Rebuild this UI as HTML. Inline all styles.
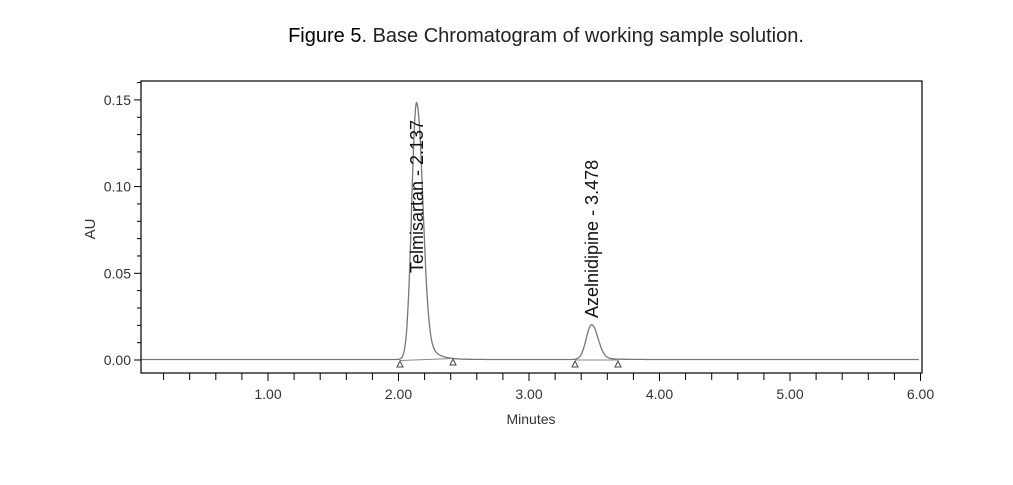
<!DOCTYPE html>
<html><head><meta charset="utf-8"><style>
body{margin:0;background:#fff;width:1013px;height:485px;overflow:hidden}
svg{display:block}
text{font-family:"Liberation Sans",Arial,sans-serif}
</style></head><body>
<svg id="s" width="1013" height="485" viewBox="0 0 1013 485">
<text x="546" y="42" font-size="20" text-anchor="middle" fill="#222"><tspan fill="#000">Figure 5</tspan>. Base Chromatogram of working sample solution.</text>
<rect x="141" y="81" width="781" height="292" fill="none" stroke="#000" stroke-width="1.2"/>
<g id="ax" stroke="#000" stroke-width="1"></g>
<g font-size="14" fill="#333" id="lbl"></g>
<text x="531" y="424" font-size="14" text-anchor="middle" fill="#333">Minutes</text>
<text transform="translate(95,229) rotate(-90)" font-size="15" text-anchor="middle" fill="#333">AU</text>
<path id="p" fill="none" stroke="#777" stroke-width="1.3"/>
<path d="M400,360.5 L453,358.5 M575,360 L618,360" stroke="#888" fill="none"/>
<g fill="none" stroke="#444" stroke-width="1">
<path d="M397,367 L400,361 L403,367Z"/><path d="M450,365 L453,359 L456,365Z"/>
<path d="M572,367 L575,361 L578,367Z"/><path d="M615,367 L618,361 L621,367Z"/>
</g>
<text transform="translate(423,273) rotate(-90)" font-size="18" fill="#111">Telmisartan - 2.137</text>
<text transform="translate(598,318) rotate(-90)" font-size="18" fill="#111">Azelnidipine - 3.478</text>
</svg>
<script>
const X=t=>137.5+130.5*t, Y=v=>360-v*1734;
let ax='',lb='';
for(let i=1;i<=30;i++){const t=i*0.2;const x=X(t);if(x<141||x>922)continue;const maj=i%5==0;ax+=`<line x1="${x}" y1="373" x2="${x}" y2="${maj?381:380}"/>`;}
for(let i=1;i<=6;i++)lb+=`<text x="${X(i)}" y="399" text-anchor="middle">${i}.00</text>`;
for(let i=0;i<=16;i++){const v=i*0.01;const y=Y(v);const maj=i%5==0;ax+=`<line x1="${maj?134:137}" y1="${y}" x2="141" y2="${y}"/>`;}
for(let i=0;i<=3;i++)lb+=`<text x="131" y="${Y(i*0.05)+5}" text-anchor="end">0.${i==0?'00':i==1?'05':i==2?'10':'15'}</text>`;
document.getElementById('ax').innerHTML=ax;document.getElementById('lbl').innerHTML=lb;
function pk(t,c,h,s1,s2){const d=t-c;const s=d<0?s1:s2;return h*Math.exp(-d*d/(2*s*s));}
function tail(t,c,h,tau,s){const d=t-c;const r=1/(1+Math.exp(-d/s));return h*r*Math.exp(-Math.max(d,0)/tau);}
let d='';
for(let t=0.03;t<=5.99;t+=0.003){let v=0.0003+pk(t,2.137,0.146,0.036,0.045)+tail(t,2.17,0.02,0.07,0.015)+pk(t,3.478,0.0195,0.04,0.048)+tail(t,3.5,0.002,0.08,0.02);
d+=(d?'L':'M')+X(t).toFixed(1)+','+Y(v).toFixed(1);}
document.getElementById('p').setAttribute('d',d);
</script>
</body></html>
